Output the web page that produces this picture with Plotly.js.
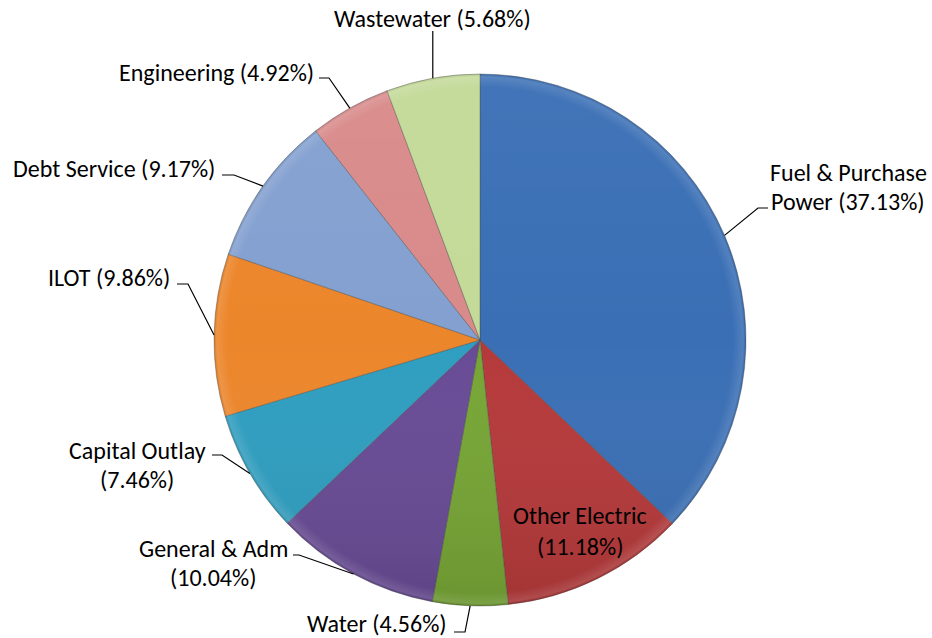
<!DOCTYPE html>
<html>
<head>
<meta charset="utf-8">
<script src="https://cdn.plot.ly/plotly-3.0.1.min.js"></script>
<style>
html,body{margin:0;padding:0;background:#fff;}
#chart{width:932px;height:638px;}
</style>
</head>
<body>
<div id="chart"></div>
<script>
// ---- data ----
const categories = ['Fuel & Purchase Power', 'Other Electric', 'Water', 'General & Adm',
  'Capital Outlay', 'ILOT', 'Debt Service', 'Engineering', 'Wastewater'];
const shares = [37.13, 11.18, 4.56, 10.04, 7.46, 9.86, 9.17, 4.92, 5.68];
const sliceColors = ['#3a6fb5', '#b5393a', '#76a535', '#684b95', '#2f9ec0',
  '#ec862b', '#83a0d0', '#d98a8a', '#c3da98'];

// ---- layout config (positions, not data) ----
const W = 932, H = 638;
const CX = 480, CY = 340, R = 266;
// split: number of words on line 1 (-1 = single line); x,y: text centre of first line; tick: [outer end, elbow] x; ty: tick y
const labelCfg = {
  'Fuel & Purchase Power': {split: 3, x: 848, y: 172, gap: 29, tick: [768, 758], ty: 208},
  'Other Electric':        {split: 2, x: 580, y: 515, gap: 31, inside: true},
  'Water':                 {split: -1, x: 377, y: 623, tick: [454, 465], ty: 632},
  'General & Adm':         {split: 3, x: 213, y: 548, gap: 29, tick: [293, 299], ty: 555},
  'Capital Outlay':        {split: 2, x: 137, y: 450, gap: 29, tick: [212, 222], ty: 455},
  'ILOT':                  {split: -1, x: 109, y: 277, tick: [177, 188], ty: 284},
  'Debt Service':          {split: -1, x: 114, y: 168, tick: [222, 234], ty: 175},
  'Engineering':           {split: -1, x: 216, y: 72, tick: [319, 329], ty: 78},
  'Wastewater':            {split: -1, x: 432, y: 19, tick: null, ty: 31}
};

const px = x => x / W;
const py = y => 1 - y / H;
const FONT = 'Carlito, Calibri, "Noto Sans", sans-serif';

const annotations = [];
const shapes = [];
const total = shares.reduce((a, b) => a + b, 0);
let cum = 0;
categories.forEach((name, i) => {
  const v = shares[i];
  const mid = (cum + v / 2) / total * 2 * Math.PI;
  cum += v;
  const ex = CX + R * Math.sin(mid), ey = CY - R * Math.cos(mid);
  const cfg = labelCfg[name];
  const pct = '(' + v.toFixed(2) + '%)';
  let lines;
  if (cfg.split === -1) lines = [name + ' ' + pct];
  else {
    const words = name.split(' ');
    const first = words.slice(0, cfg.split).join(' ');
    const rest = words.slice(cfg.split).join(' ');
    lines = [first, (rest ? rest + ' ' : '') + pct];
  }
  lines.forEach((t, k) => {
    annotations.push({
      x: px(cfg.x), y: py(cfg.y + k * (cfg.gap || 0)), xref: 'paper', yref: 'paper',
      text: t, showarrow: false, xanchor: 'center', yanchor: 'middle',
      font: {family: FONT, size: 24, color: '#000'}
    });
  });
  if (!cfg.inside) {
    // leader line: pie edge (from data) -> elbow near label -> short horizontal tick
    let path;
    if (cfg.tick) {
      path = `M ${px(ex)},${py(ey)} L ${px(cfg.tick[1])},${py(cfg.ty)} L ${px(cfg.tick[0])},${py(cfg.ty)}`;
    } else {
      path = `M ${px(ex)},${py(ey)} L ${px(ex)},${py(cfg.ty)}`;
    }
    shapes.push({type: 'path', xref: 'paper', yref: 'paper', path: path,
      line: {color: '#000', width: 1.2}});
  }
});

const shadeSvg = `<svg xmlns="http://www.w3.org/2000/svg" width="200" height="200" viewBox="0 0 200 200">
<defs>
<linearGradient id="g" x1="0" y1="0" x2="0" y2="1">
<stop offset="0" stop-color="#ffffff" stop-opacity="0.04"/>
<stop offset="0.5" stop-color="#ffffff" stop-opacity="0"/>
<stop offset="1" stop-color="#000000" stop-opacity="0.10"/>
</linearGradient>
<radialGradient id="r" cx="0.5" cy="0.5" r="0.5">
<stop offset="0.95" stop-color="#fff" stop-opacity="0"/>
<stop offset="0.99" stop-color="#fff" stop-opacity="0.12"/>
<stop offset="1" stop-color="#000" stop-opacity="0.06"/>
</radialGradient>
</defs>
<circle cx="100" cy="100" r="100" fill="url(#g)"/>
<circle cx="100" cy="100" r="100" fill="url(#r)"/>
</svg>`;

const trace = {
  type: 'pie',
  labels: categories,
  values: shares,
  sort: false,
  direction: 'clockwise',
  rotation: 0,
  textinfo: 'none',
  hoverinfo: 'label+percent',
  marker: {colors: sliceColors, line: {color: 'rgba(70,70,70,0.4)', width: 1}},
  domain: {x: [px(CX - R), px(CX + R)], y: [py(CY + R), py(CY - R)]},
  showlegend: false
};

const layout = {
  width: W, height: H,
  margin: {l: 0, r: 0, t: 0, b: 0},
  paper_bgcolor: '#fff',
  showlegend: false,
  annotations: annotations,
  shapes: shapes,
  images: [{
    source: 'data:image/svg+xml;base64,' + btoa(shadeSvg),
    xref: 'paper', yref: 'paper',
    x: px(CX - R), y: py(CY - R), sizex: 2 * R / W, sizey: 2 * R / H,
    xanchor: 'left', yanchor: 'top', sizing: 'stretch', layer: 'above', opacity: 1
  }]
};

Plotly.newPlot('chart', [trace], layout, {displayModeBar: false, staticPlot: true});
</script>
</body>
</html>
